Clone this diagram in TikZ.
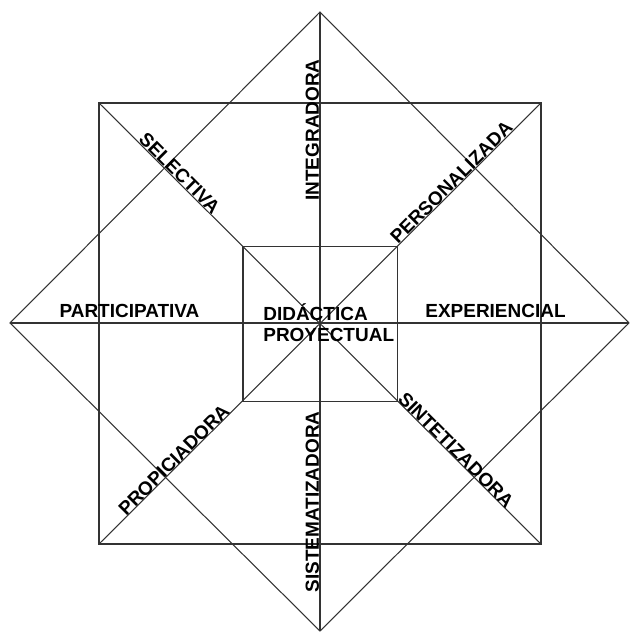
\documentclass[tikz,border=0pt]{standalone}
\usepackage{fontspec}
\setmainfont{Liberation Sans}
\usetikzlibrary{positioning}

\begin{document}
\begin{tikzpicture}[
    edge/.style={draw=black!80, line width=0.6pt},
    lbl/.style={font=\fontsize{10.8}{11.4}\selectfont\bfseries, inner sep=0pt, anchor=base}
]
\useasboundingbox (-6.4,-6.24) rectangle (6.2,6.46);

% Diamond vertices
\coordinate (dtop) at (0,6.22);
\coordinate (dbot) at (0,-6.16);
\coordinate (dleft) at (-6.2,0);
\coordinate (dright) at (6.18,0);

% Outer square corners
\coordinate (sq1) at (-4.42,4.4);
\coordinate (sq2) at (4.42,4.4);
\coordinate (sq3) at (4.42,-4.42);
\coordinate (sq4) at (-4.42,-4.42);

% Inner square corners
\coordinate (in1) at (-1.54,1.53);
\coordinate (in3) at (1.55,-1.57);

% Shapes
\draw[edge] (dtop) -- (dright) -- (dbot) -- (dleft) -- cycle;
\draw[edge] (sq1) -- (sq2) -- (sq3) -- (sq4) -- cycle;
\draw[edge] (in1) rectangle (in3);

% Axes and diagonals
\draw[edge] (dtop) -- (dbot);
\draw[edge] (dleft) -- (dright);
\draw[edge] (sq1) -- (sq3);
\draw[edge] (sq2) -- (sq4);

% Labels along the lines
\node[lbl, rotate=90] (integ) at (-0.02,3.86) {INTEGRADORA};
\node[lbl, rotate=90] (sistem) at (-0.02,-3.58) {SISTEMATIZADORA};
\node[lbl, rotate=-45] (select) at (-2.9,2.9) {SELECTIVA};
\node[lbl, rotate=45] (person) at (2.72,2.72) {PERSONALIZADA};
\node[lbl, rotate=45] (propic) at (-2.83,-2.83) {PROPICIADORA};
\node[lbl, rotate=-45] (sintet) at (2.63,-2.63) {SINTETIZADORA};
\node[lbl] (partic) at (-3.81,0.1) {PARTICIPATIVA};
\node[lbl] (experi) at (3.51,0.1) {EXPERIENCIAL};

% Centre
\node[lbl, anchor=base west, align=left] (didac) at (-1.14,-0.36)
    {DIDÁCTICA\\PROYECTUAL};

\end{tikzpicture}
\end{document}
